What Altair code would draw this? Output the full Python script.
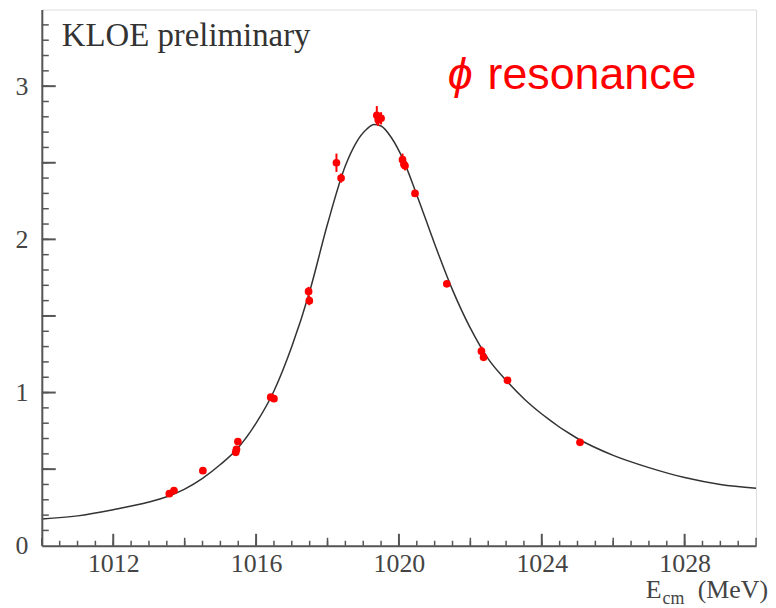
import altair as alt
import pandas as pd
import numpy as np

# ---- data ----
pt_x = [1013.57, 1013.70, 1014.51, 1015.43, 1015.45, 1015.49, 1016.41, 1016.50,
        1017.47, 1017.49, 1018.25, 1018.38, 1019.38, 1019.42, 1019.50, 1020.10,
        1020.14, 1020.17, 1020.45, 1021.34, 1022.31, 1022.37, 1023.04, 1025.07]
pt_y = [0.34, 0.36, 0.49, 0.61, 0.63, 0.68, 0.97, 0.96,
        1.66, 1.60, 2.50, 2.40, 2.81, 2.78, 2.79, 2.52,
        2.49, 2.48, 2.30, 1.71, 1.27, 1.23, 1.08, 0.675]
pt_err = [0.02, 0.02, 0.02, 0.02, 0.02, 0.02, 0.02, 0.02,
          0.03, 0.03, 0.06, 0.03, 0.06, 0.04, 0.04, 0.04,
          0.03, 0.03, 0.02, 0.02, 0.03, 0.02, 0.02, 0.02]

fit_x = [1010, 1011, 1012, 1013, 1013.5, 1014, 1014.5, 1015, 1015.5, 1016, 1016.5,
         1017, 1017.5, 1018, 1018.5, 1018.8, 1019.1, 1019.3, 1019.5, 1019.8, 1020.1,
         1020.5, 1021, 1021.5, 1022, 1022.5, 1023, 1023.5, 1024, 1025, 1026, 1027, 1028,
         1029, 1030]
fit_y = [0.175, 0.195, 0.235, 0.285, 0.32, 0.37, 0.44, 0.53, 0.64, 0.80, 1.01,
         1.30, 1.66, 2.10, 2.48, 2.63, 2.72, 2.75, 2.74, 2.66, 2.53,
         2.29, 1.97, 1.67, 1.42, 1.22, 1.08, 0.96, 0.86, 0.70, 0.59, 0.51, 0.445,
         0.40, 0.375]

x_labels = [1012, 1016, 1020, 1024, 1028]
y_labels = [0, 1, 2, 3]
x_ticks_small = list(np.arange(1010.5, 1030, 0.5))
x_ticks_mid = [1010, 1014, 1018, 1022, 1026, 1030]
x_ticks_big = [1012, 1016, 1020, 1024, 1028]
y_ticks_small = list(np.round(np.arange(0.1, 3.5, 0.1), 2))
y_ticks_big = [0.5, 1.0, 1.5, 2.0, 2.5, 3.0]

W, H = 718, 539
AX = "#555555"

pts = pd.DataFrame({"x": pt_x, "y": pt_y, "e": pt_err})
fit = pd.DataFrame({"x": fit_x, "y": fit_y})

xscale = alt.Scale(domain=[1010, 1030], nice=False, zero=False)
yscale = alt.Scale(domain=[0, 3.5], nice=False, zero=True)
xaxis = alt.Axis(values=x_labels, title=None, ticks=False, grid=False, labelFont="Liberation Serif",
                 labelFontSize=26, labelColor="#444444", labelPadding=5, domainColor=AX,
                 domainWidth=2, labelOverlap=False, zindex=1, format="d")
yaxis = alt.Axis(values=y_labels, title=None, ticks=False, grid=False, labelFont="Liberation Serif",
                 labelFontSize=26, labelColor="#444444", labelPadding=14, domainColor=AX,
                 domainWidth=2, labelOverlap=False, zindex=1)


def X(f):
    return alt.X(f, type="quantitative", scale=xscale, axis=xaxis)


def Y(f):
    return alt.Y(f, type="quantitative", scale=yscale, axis=yaxis)


curve = alt.Chart(fit).mark_line(color="#333333", strokeWidth=1.5, interpolate="monotone").encode(
    x=X("x"), y=Y("y"))

errs = alt.Chart(pts).transform_calculate(lo="datum.y - datum.e", hi="datum.y + datum.e").mark_rule(
    color="#ff0000", strokeWidth=2).encode(x=X("x"), y=Y("lo"), y2="hi:Q")

dots = alt.Chart(pts).mark_circle(color="#ff0000", opacity=1, size=60).encode(x=X("x"), y=Y("y"))


def xt(vals, ln, w=1.5):
    return alt.Chart(pd.DataFrame({"v": vals})).mark_rule(color=AX, strokeWidth=w).encode(
        x=X("v"), y=alt.value(H), y2=alt.value(H - ln))


def yt(vals, ln, w=1.5):
    return alt.Chart(pd.DataFrame({"v": vals})).mark_rule(color=AX, strokeWidth=w).encode(
        y=Y("v"), x=alt.value(0), x2=alt.value(ln))


ticks = [xt(x_ticks_small, 5), xt(x_ticks_mid, 8), xt(x_ticks_big, 12, 2),
         yt(y_ticks_small, 7), yt(y_ticks_big, 14, 2)]

base_txt = pd.DataFrame({"a": [0]})


def label(txt, x, y, size, font, color, align="left", style="normal"):
    return alt.Chart(base_txt).mark_text(text=txt, align=align, baseline="alphabetic", fontSize=size,
                                         font=font, color=color, fontStyle=style).encode(
        x=alt.value(x), y=alt.value(y))


texts = [
    label("KLOE preliminary", 20, 37, 33, "Liberation Serif", "#333333"),
    label("ϕ", 408, 80, 45, "Liberation Sans", "#ff0000", style="italic"),
    label("resonance", 448, 80, 45, "Liberation Sans", "#ff0000"),
    label("E", 607, 592, 26, "Liberation Serif", "#444444"),
    label("cm", 624, 598, 18, "Liberation Serif", "#444444"),
    label("(MeV)", 730, 592, 26, "Liberation Serif", "#444444", align="right"),
]

chart = alt.layer(curve, *ticks, errs, dots, *texts).properties(
    width=W, height=H, autosize=alt.AutoSizeParams(type="none"),
    padding={"left": 34, "top": 0, "right": 12, "bottom": 60}
).configure_view(stroke="#cccccc", strokeWidth=3).configure(background="white")

chart.save("out.html", embed_options={"renderer": "svg", "actions": False})
